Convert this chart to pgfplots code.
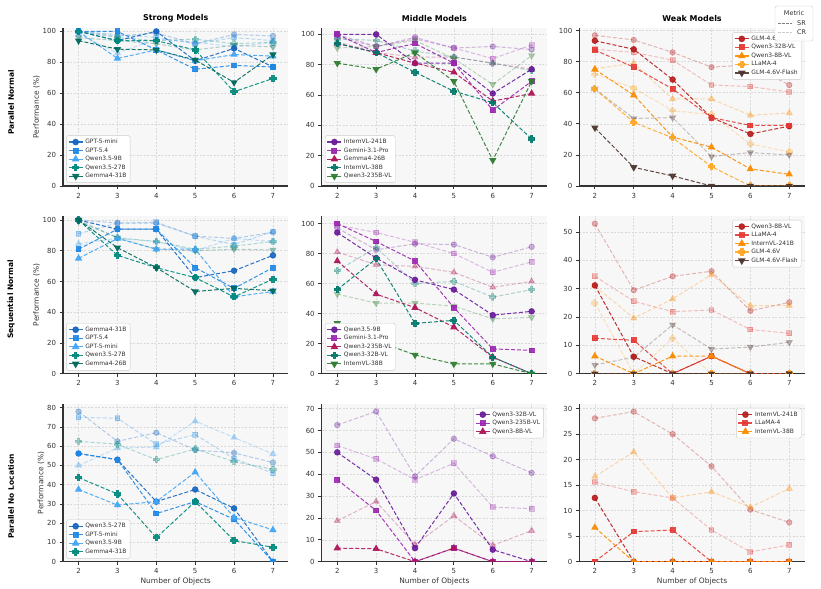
\documentclass[border=0pt]{standalone}
\usepackage{pgfplots}
\usepackage{pgfplotstable}
\pgfplotsset{compat=1.18}
\usepackage{fontspec}
\setmainfont{DejaVu Sans}

% ---------- colours ----------
\definecolor{bgc}{HTML}{F7F7F7}
\definecolor{gridc}{HTML}{D9D9D9}
\definecolor{spine}{HTML}{333333}
\definecolor{labc}{HTML}{333333}
% strong models
\definecolor{sA}{HTML}{1565C0}
\definecolor{sB}{HTML}{1E88E5}
\definecolor{sC}{HTML}{42A5F5}
\definecolor{sD}{HTML}{00897B}
\definecolor{sE}{HTML}{00695C}
% middle models
\definecolor{mA}{HTML}{6A1B9A}
\definecolor{mB}{HTML}{9C27B0}
\definecolor{mC}{HTML}{AD1457}
\definecolor{mD}{HTML}{00796B}
\definecolor{mE}{HTML}{2E7D32}
% weak models
\definecolor{wA}{HTML}{B71C1C}
\definecolor{wB}{HTML}{E53935}
\definecolor{wC}{HTML}{FB8C00}
\definecolor{wD}{HTML}{FFA726}
\definecolor{wE}{HTML}{4E342E}

% filled plus marker
\pgfdeclareplotmark{plusfill}{%
  \pgfpathmoveto{\pgfqpoint{-0.36\pgfplotmarksize}{\pgfplotmarksize}}%
  \pgfpathlineto{\pgfqpoint{0.36\pgfplotmarksize}{\pgfplotmarksize}}%
  \pgfpathlineto{\pgfqpoint{0.36\pgfplotmarksize}{0.36\pgfplotmarksize}}%
  \pgfpathlineto{\pgfqpoint{\pgfplotmarksize}{0.36\pgfplotmarksize}}%
  \pgfpathlineto{\pgfqpoint{\pgfplotmarksize}{-0.36\pgfplotmarksize}}%
  \pgfpathlineto{\pgfqpoint{0.36\pgfplotmarksize}{-0.36\pgfplotmarksize}}%
  \pgfpathlineto{\pgfqpoint{0.36\pgfplotmarksize}{-\pgfplotmarksize}}%
  \pgfpathlineto{\pgfqpoint{-0.36\pgfplotmarksize}{-\pgfplotmarksize}}%
  \pgfpathlineto{\pgfqpoint{-0.36\pgfplotmarksize}{-0.36\pgfplotmarksize}}%
  \pgfpathlineto{\pgfqpoint{-\pgfplotmarksize}{-0.36\pgfplotmarksize}}%
  \pgfpathlineto{\pgfqpoint{-\pgfplotmarksize}{0.36\pgfplotmarksize}}%
  \pgfpathlineto{\pgfqpoint{-0.36\pgfplotmarksize}{0.36\pgfplotmarksize}}%
  \pgfpathclose
  \pgfusepathqfillstroke
}

\pgfplotsset{
  sr/.style={line width=1bp, dash pattern=on 4bp off 2bp, opacity=0.9,
    every mark/.append style={solid}},
  cr/.style={line width=1bp, dash pattern=on 4bp off 2bp, opacity=0.3,
    every mark/.append style={solid}},
  mo/.style={mark=*, mark size=2.7bp},
  ms/.style={mark=square*, mark size=2.4bp},
  mt/.style={mark=triangle*, mark size=3.3bp},
  mp/.style={mark=plusfill, mark size=3.1bp},
  mv/.style={mark=triangle*, mark size=3.3bp, every mark/.append style={rotate=180}},
  panel/.style={
    scale only axis, width=225.5bp, height=157.7bp,
    xmin=1.6, xmax=7.4, ymin=0,
    xtick={2,3,4,5,6,7},
    axis lines=left,
    x axis line style={-}, y axis line style={-},
    axis line style={draw=spine, line width=1.1bp},
    tick align=outside, major tick length=3.5bp,
    tick style={draw=spine, line width=0.8bp},
    axis background/.style={fill=bgc},
    grid=major,
    grid style={draw=gridc, line width=0.6bp, dash pattern=on 2bp off 1.5bp},
    tick label style={font=\fontsize{7}{8}\selectfont, text=labc},
    /pgf/number format/assume math mode=true,
    label style={font=\fontsize{7.5}{9}\selectfont, text=labc},
    ylabel shift=-4bp, xlabel shift=-3bp,
    title style={font=\bfseries\fontsize{8}{9.6}\selectfont, yshift=-3bp},
    clip marker paths=true,
    legend cell align=left,
    legend style={font=\fontsize{6}{7}\selectfont, draw=black!20, fill=white,
      rounded corners=1.5bp, inner sep=1.5bp, row sep=-1.4bp, text=labc},
    legend image code/.code={\draw[mark repeat=2,mark phase=2,#1,solid,line width=1.2bp]
      plot coordinates {(0bp,0bp) (7bp,0bp) (14bp,0bp)};},
  },
  ll/.style={legend style={at={(0.015,0.02)}, anchor=south west}},
  ur/.style={legend style={at={(0.985,0.975)}, anchor=north east}},
}

\newcommand\crl[4]{\addplot[cr,color=#3,#4,forget plot] table[x=n,y=#2cr]{#1};}
\newcommand\srl[5]{\addplot[sr,color=#3,#4] table[x=n,y=#2sr]{#1};\addlegendentry{#5}}

% ---------- data: SR and CR per model ----------
% Parallel Normal
\pgfplotstableread{
n asr acr bsr bcr csr ccr dsr dcr esr ecr
2 100 100 100 100 100 98 100 100 94 96
3 94 97 100 98 82.5 86 94 96 88.5 94
4 100 99 88 96 88 95 94 94 88 92
5 81 92 75.5 92 81 93 88 95 81.5 88
6 89 98 78 96 85 90 61 92 67 91
7 77 97 77 94 84 93 69.5 93 85 90
}\tPNs
\pgfplotstableread{
n asr acr bsr bcr csr ccr dsr dcr esr ecr
2 100 98 100 100 94 95 94 97 81 91
3 100 92 88 92 88 88 88 96 77 92
4 81 98 94 97 81 85 75 89 88 96
5 81 91 81 91 75 85 62.5 85 69 84
6 61 92 50 84 56 81 55 81 17 67
7 77 90 69 93 61 77 31 76 69 86
}\tPNm
\pgfplotstableread{
n asr acr bsr bcr csr ccr dsr dcr esr ecr
2 93.5 97 87.5 88 75 75.5 62.5 72 37.5 62.5
3 88 94 76.5 86 58.5 79 41 63 12 43.5
4 68.5 86 62.5 81 31.5 56 31 48.5 6.5 44
5 44 76.5 44 65 25 56 12.5 46 0 19
6 33.5 78 39 64 11 45.5 0 27 0 21.5
7 38.5 65 39 60.5 7.5 47 0 22 0 20
}\tPNw
% Sequential Normal
\pgfplotstableread{
n asr acr bsr bcr csr ccr dsr dcr esr ecr
2 100 100 81 91 75 84.5 100 100 100 99
3 94 98 94 98 88 88 77 88.5 82 88.5
4 94 98 94 98.5 81 86 69 86 69 81
5 62.5 89.5 69 89.5 81 80 62.5 81 53.5 80
6 67 88 55.5 84 50 88 50 83 55.5 81
7 77 92 69 92.5 53.5 86 61.5 86 54 80.5
}\tSNs
\pgfplotstableread{
n asr acr bsr bcr csr ccr dsr dcr esr ecr
2 94 97 100 99 75 81 56 68.5 33.5 53
3 77 82.5 88 94 53 72.5 76.5 84 22 47
4 62.5 86.5 75 87.5 44 71.5 33.5 60 12.5 47
5 56 86 44 80 31 67.5 35.5 61.5 6.5 45
6 39 77.5 16.5 67.5 11 57.5 11 51 6.5 36.5
7 41.5 84.5 15.5 74.5 0 61.5 0 56 0 37.5
}\tSNm
\pgfplotstableread{
n asr acr bsr bcr csr ccr dsr dcr esr ecr
2 31.2 53 12.5 34.4 6.2 31 0 25 0 3.1
3 6 29.5 11.8 25.6 0 19.6 0 0 0 5.8
4 0 34.4 0 21.9 6.2 26.4 0 12.5 0 17.3
5 6.2 36.2 6.2 22.5 6.2 35 0 0 0 8.7
6 0 22.2 0 15.6 0 24 0 0 0 9.4
7 0 25.2 0 14.3 0 24 0 0 0 11.1
}\tSNw
% Parallel No Location
\pgfplotstableread{
n asr acr bsr bcr csr ccr dsr dcr
2 56.2 78 56.2 75 37.5 50 43.7 62.5
3 53 62.5 53 74.5 29.4 59 35.2 61
4 31.2 67 25 61 31.2 59.5 12.5 53
5 37.5 58 31.2 66 46.5 73 31.2 58.5
6 27.7 56.5 22 53.5 23 64.5 11 52
7 0 51.5 0 46 16.5 56 7.5 48
}\tNLs
\pgfplotstableread{
n asr acr bsr bcr csr ccr
2 50 62.5 37.5 53.1 6.2 18.7
3 37.5 68.7 23.4 47 5.9 27.5
4 6.2 39 0 37.5 0 7.8
5 31.2 56.2 6.2 45 6.2 21
6 5.5 48.2 0 25 0 7.5
7 0 40.6 0 24.2 0 14.2
}\tNLm
\pgfplotstableread{
n asr acr bsr bcr csr ccr
2 12.5 28.1 0 15.6 6.7 16.7
3 0 29.4 5.9 13.7 0 21.5
4 0 25 6.2 12.5 0 12.5
5 0 18.7 0 6.2 0 13.7
6 0 10.2 0 1.9 0 10.7
7 0 7.7 0 3.3 0 14.3
}\tNLw

\begin{document}
\begin{tikzpicture}
\useasboundingbox (0,0) rectangle (821bp,589bp);

% ===== row 1: Parallel Normal =====
\begin{axis}[panel, ll, at={(63bp,403bp)}, anchor=south west, ymax=102,
  ytick={0,20,...,100}, title={Strong Models}, ylabel={Performance (\%)}]
\crl{\tPNs}{a}{sA}{mo}\crl{\tPNs}{b}{sB}{ms}\crl{\tPNs}{c}{sC}{mt}\crl{\tPNs}{d}{sD}{mp}\crl{\tPNs}{e}{sE}{mv}
\srl{\tPNs}{a}{sA}{mo}{GPT-5-mini}
\srl{\tPNs}{b}{sB}{ms}{GPT-5.4}
\srl{\tPNs}{c}{sC}{mt}{Qwen3.5-9B}
\srl{\tPNs}{d}{sD}{mp}{Qwen3.5-27B}
\srl{\tPNs}{e}{sE}{mv}{Gemma4-31B}
\end{axis}

\begin{axis}[panel, ll, at={(321.7bp,403bp)}, anchor=south west, ymax=104,
  ytick={0,20,...,100}, title={Middle Models}]
\crl{\tPNm}{a}{mA}{mo}\crl{\tPNm}{b}{mB}{ms}\crl{\tPNm}{c}{mC}{mt}\crl{\tPNm}{d}{mD}{mp}\crl{\tPNm}{e}{mE}{mv}
\srl{\tPNm}{a}{mA}{mo}{InternVL-241B}
\srl{\tPNm}{b}{mB}{ms}{Gemini-3.1-Pro}
\srl{\tPNm}{c}{mC}{mt}{Gemma4-26B}
\srl{\tPNm}{d}{mD}{mp}{InternVL-38B}
\srl{\tPNm}{e}{mE}{mv}{Qwen3-235B-VL}
\end{axis}

\begin{axis}[panel, ur, at={(579.3bp,403bp)}, anchor=south west, ymax=101.5,
  ytick={0,20,...,100}, title={Weak Models}]
\crl{\tPNw}{a}{wA}{mo}\crl{\tPNw}{b}{wB}{ms}\crl{\tPNw}{c}{wC}{mt}\crl{\tPNw}{d}{wD}{mp}\crl{\tPNw}{e}{wE}{mv}
\srl{\tPNw}{a}{wA}{mo}{GLM-4.6V}
\srl{\tPNw}{b}{wB}{ms}{Qwen3-32B-VL}
\srl{\tPNw}{c}{wC}{mt}{Qwen3-8B-VL}
\srl{\tPNw}{d}{wD}{mp}{LLaMA-4}
\srl{\tPNw}{e}{wE}{mv}{GLM-4.6V-Flash}
\end{axis}

% ===== row 2: Sequential Normal =====
\begin{axis}[panel, ll, at={(63bp,215.3bp)}, anchor=south west, ymax=102.6,
  ytick={0,20,...,100}, ylabel={Performance (\%)}]
\crl{\tSNs}{a}{sA}{mo}\crl{\tSNs}{b}{sB}{ms}\crl{\tSNs}{c}{sC}{mt}\crl{\tSNs}{d}{sD}{mp}\crl{\tSNs}{e}{sE}{mv}
\srl{\tSNs}{a}{sA}{mo}{Gemma4-31B}
\srl{\tSNs}{b}{sB}{ms}{GPT-5.4}
\srl{\tSNs}{c}{sC}{mt}{GPT-5-mini}
\srl{\tSNs}{d}{sD}{mp}{Qwen3.5-27B}
\srl{\tSNs}{e}{sE}{mv}{Gemma4-26B}
\end{axis}

\begin{axis}[panel, ll, at={(321.7bp,215.3bp)}, anchor=south west, ymax=105,
  ytick={0,20,...,100}]
\crl{\tSNm}{a}{mA}{mo}\crl{\tSNm}{b}{mB}{ms}\crl{\tSNm}{c}{mC}{mt}\crl{\tSNm}{d}{mD}{mp}\crl{\tSNm}{e}{mE}{mv}
\srl{\tSNm}{a}{mA}{mo}{Qwen3.5-9B}
\srl{\tSNm}{b}{mB}{ms}{Gemini-3.1-Pro}
\srl{\tSNm}{c}{mC}{mt}{Qwen3-235B-VL}
\srl{\tSNm}{d}{mD}{mp}{Qwen3-32B-VL}
\srl{\tSNm}{e}{mE}{mv}{InternVL-38B}
\end{axis}

\begin{axis}[panel, ur, at={(579.3bp,215.3bp)}, anchor=south west, ymax=55.7,
  ytick={0,10,...,50}]
\crl{\tSNw}{a}{wA}{mo}\crl{\tSNw}{b}{wB}{ms}\crl{\tSNw}{c}{wC}{mt}\crl{\tSNw}{d}{wD}{mp}\crl{\tSNw}{e}{wE}{mv}
\srl{\tSNw}{a}{wA}{mo}{Qwen3-8B-VL}
\srl{\tSNw}{b}{wB}{ms}{LLaMA-4}
\srl{\tSNw}{c}{wC}{mt}{InternVL-241B}
\srl{\tSNw}{d}{wD}{mp}{GLM-4.6V}
\srl{\tSNw}{e}{wE}{mv}{GLM-4.6V-Flash}
\end{axis}

% ===== row 3: Parallel No Location =====
\begin{axis}[panel, ll, at={(63bp,27.3bp)}, anchor=south west, ymax=81.9,
  ytick={0,10,...,80}, ylabel={Performance (\%)}, xlabel={Number of Objects}]
\crl{\tNLs}{a}{sA}{mo}\crl{\tNLs}{b}{sB}{ms}\crl{\tNLs}{c}{sC}{mt}\crl{\tNLs}{d}{sD}{mp}
\srl{\tNLs}{a}{sA}{mo}{Qwen3.5-27B}
\srl{\tNLs}{b}{sB}{ms}{GPT-5-mini}
\srl{\tNLs}{c}{sC}{mt}{Qwen3.5-9B}
\srl{\tNLs}{d}{sD}{mp}{Gemma4-31B}
\end{axis}

\begin{axis}[panel, ur, at={(321.7bp,27.3bp)}, anchor=south west, ymax=72.1,
  ytick={0,10,...,70}, xlabel={Number of Objects}]
\crl{\tNLm}{a}{mA}{mo}\crl{\tNLm}{b}{mB}{ms}\crl{\tNLm}{c}{mC}{mt}
\srl{\tNLm}{a}{mA}{mo}{Qwen3-32B-VL}
\srl{\tNLm}{b}{mB}{ms}{Qwen3-235B-VL}
\srl{\tNLm}{c}{mC}{mt}{Qwen3-8B-VL}
\end{axis}

\begin{axis}[panel, ur, at={(579.3bp,27.3bp)}, anchor=south west, ymax=30.9,
  ytick={0,5,...,30}, xlabel={Number of Objects}]
\crl{\tNLw}{a}{wA}{mo}\crl{\tNLw}{b}{wB}{ms}\crl{\tNLw}{c}{wC}{mt}
\srl{\tNLw}{a}{wA}{mo}{InternVL-241B}
\srl{\tNLw}{b}{wB}{ms}{LLaMA-4}
\srl{\tNLw}{c}{wC}{mt}{InternVL-38B}
\end{axis}

% row labels
\begin{scope}[every node/.style={rotate=90, font=\bfseries\fontsize{7.5}{9}\selectfont, text=black}]
\node at (11bp,486.5bp) {Parallel Normal};
\node at (11bp,289.5bp) {Sequential Normal};
\node at (11bp,92.5bp) {Parallel No Location};
\end{scope}

% metric key
\draw[draw=black!20, fill=white, rounded corners=1.5bp] (775bp,548bp) rectangle (813bp,583bp);
\node[font=\fontsize{6.5}{7.5}\selectfont, text=labc] at (794bp,575.5bp) {Metric};
\draw[black!50, line width=0.9bp, dash pattern=on 2.5bp off 1.5bp] (778bp,566bp) -- (792bp,566bp);
\node[anchor=west, font=\fontsize{6.5}{7.5}\selectfont, text=labc, inner sep=0pt] at (797bp,566bp) {SR};
\draw[black!20, line width=0.9bp, dash pattern=on 2.5bp off 1.5bp] (778bp,556.5bp) -- (792bp,556.5bp);
\node[anchor=west, font=\fontsize{6.5}{7.5}\selectfont, text=labc, inner sep=0pt] at (797bp,556.5bp) {CR};
\end{tikzpicture}
\end{document}
